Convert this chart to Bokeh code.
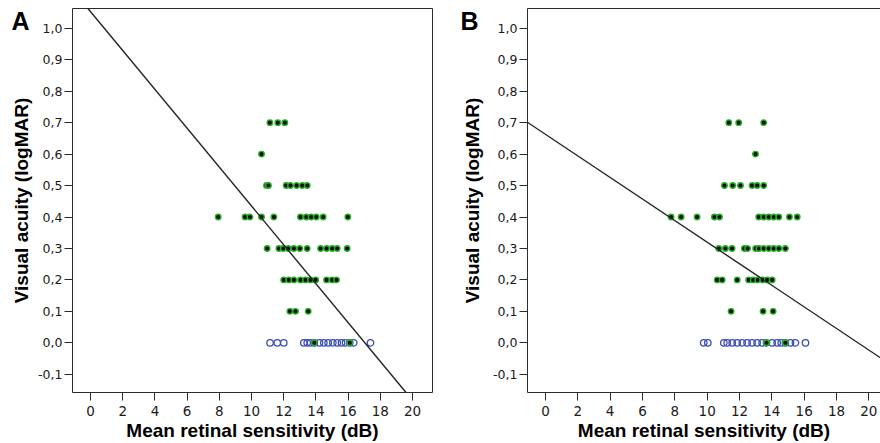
from bokeh.plotting import figure
from bokeh.layouts import row
from bokeh.models import FixedTicker, Range1d, Slope, LinearAxis, Title
from bokeh.embed import file_html
from bokeh.resources import INLINE

# ---------------- data ----------------
x_ticks = [0, 2, 4, 6, 8, 10, 12, 14, 16, 18, 20]
x_tick_labels = ["0", "2", "4", "6", "8", "10", "12", "14", "16", "18", "20"]
y_ticks = [-0.1, 0.0, 0.1, 0.2, 0.3, 0.4, 0.5, 0.6, 0.7, 0.8, 0.9, 1.0]
y_tick_labels = ["-0,1", "0,0", "0,1", "0,2", "0,3", "0,4", "0,5", "0,6", "0,7", "0,8", "0,9", "1,0"]

# Panel A
a_green_x = [11.14, 11.63, 12.07,
             10.62,
             10.93, 11.05, 12.15, 12.42, 12.8, 13.15, 13.46,
             7.93, 9.6, 9.9, 10.62, 11.39, 13.04, 13.4, 13.7, 14.02, 14.45, 15.98,
             10.97, 11.7, 11.97, 12.28, 12.63, 13.0, 13.46, 14.29, 14.66, 15.01, 15.32, 15.94,
             12.0, 12.32, 12.63, 13.04, 13.35, 13.66, 13.98, 14.66, 15.01, 15.28,
             12.38, 12.73, 13.52,
             13.9, 16.1]
a_green_y = [0.7] * 3 + [0.6] * 1 + [0.5] * 7 + [0.4] * 11 + [0.3] * 12 + [0.2] * 10 + [0.1] * 3 + [0.0] * 2
a_blue_x = [11.15, 11.6, 12.0, 13.25, 13.46, 13.66, 13.9, 14.22, 14.49, 14.76, 15.05,
            15.32, 15.59, 15.84, 16.1, 16.35, 17.39]
a_blue_y = [0.0] * len(a_blue_x)
a_intercept, a_slope = 1.053, -0.0618

# Panel B
b_green_x = [11.34, 11.95, 13.5,
             12.99,
             11.07, 11.58, 12.06, 12.78, 13.09, 13.5,
             7.77, 8.39, 9.38, 10.45, 10.76, 13.19, 13.5, 13.81, 14.12, 14.43, 15.09, 15.57,
             10.72, 11.13, 11.54, 12.3, 12.5, 13.0, 13.2, 13.5, 13.81, 14.12, 14.43, 14.84,
             10.62, 10.93, 11.86, 12.57, 12.85, 13.13, 13.44, 13.71, 14.02,
             11.48, 13.46, 14.08,
             13.67, 14.84]
b_green_y = [0.7] * 3 + [0.6] * 1 + [0.5] * 6 + [0.4] * 12 + [0.3] * 12 + [0.2] * 9 + [0.1] * 3 + [0.0] * 2
b_blue_x = [9.79, 10.04, 11.03, 11.24, 11.55, 11.86, 12.17, 12.47, 12.78, 13.09, 13.4,
            13.67, 14.02, 14.33, 14.58, 14.84, 15.15, 15.46, 16.08]
b_blue_y = [0.0] * len(b_blue_x)
b_intercept, b_slope = 0.663, -0.0343

X_LABEL = "Mean retinal sensitivity (dB)"
Y_LABEL = "Visual acuity (logMAR)"
PANEL_LETTERS = ["A", "B"]
LETTER_Y = 1.022

FRAME_COLOR = "#2a2a2a"
TEXT_COLOR = "#1a1a1a"
LABEL_FONT = "Liberation Sans"
FIG_H = 443


def style_axes(p):
    p.xgrid.visible = False
    p.ygrid.visible = False
    p.xaxis.ticker = FixedTicker(ticks=x_ticks)
    p.xaxis.major_label_overrides = {t: l for t, l in zip(x_ticks, x_tick_labels)}
    p.yaxis.ticker = FixedTicker(ticks=y_ticks)
    p.yaxis.major_label_overrides = {t: l for t, l in zip(y_ticks, y_tick_labels)}
    for ax in (p.xaxis, p.yaxis):
        ax.axis_line_color = FRAME_COLOR
        ax.major_tick_line_color = FRAME_COLOR
        ax.major_tick_in = 0
        ax.major_tick_out = 8
        ax.minor_tick_line_color = None
        ax.major_label_text_font = "DejaVu Sans"
        ax.major_label_text_color = TEXT_COLOR
    p.xaxis.major_label_text_font_size = "13.5px"
    p.yaxis.major_label_text_font_size = "12.5px"
    p.xaxis.major_label_standoff = 5
    p.yaxis.major_label_standoff = 2


def edge_axis(p, side):
    ax = LinearAxis(ticker=FixedTicker(ticks=[]), axis_line_color=FRAME_COLOR,
                    major_tick_out=0, major_tick_in=0, minor_tick_out=0, minor_tick_in=0,
                    major_label_standoff=0, major_label_text_font_size="0px")
    p.add_layout(ax, side)


def make_panel(letter, letter_standoff, ylabel_standoff, gx, gy, bx, by, intercept, slope,
               width, border_left, border_right, x_start, x_end, sides):
    p = figure(width=width, height=FIG_H, output_backend="svg", toolbar_location=None,
               x_range=Range1d(x_start, x_end), y_range=Range1d(-0.158, 1.063),
               min_border_left=border_left, min_border_right=border_right,
               min_border_top=8, min_border_bottom=0,
               background_fill_color="white", border_fill_color="white")
    p.outline_line_color = None
    style_axes(p)
    for s in sides:
        edge_axis(p, s)
    # outer left axis: carries the panel letter (as its only tick label) and the y-axis title
    letter_axis = LinearAxis(ticker=FixedTicker(ticks=[LETTER_Y]),
                             major_label_overrides={LETTER_Y: letter},
                             axis_line_color=None, major_tick_line_color=None,
                             minor_tick_line_color=None, major_tick_out=0, major_tick_in=0,
                             major_label_standoff=letter_standoff,
                             major_label_text_font=LABEL_FONT,
                             major_label_text_font_style="bold",
                             major_label_text_font_size="25px",
                             major_label_text_color="#000000",
                             axis_label=Y_LABEL, axis_label_standoff=ylabel_standoff,
                             axis_label_text_font=LABEL_FONT,
                             axis_label_text_font_style="bold",
                             axis_label_text_font_size="19px",
                             axis_label_text_color="#000000")
    p.add_layout(letter_axis, "left")
    p.add_layout(Title(text=X_LABEL, align="center", vertical_align="top", standoff=2,
                       text_font=LABEL_FONT, text_font_style="bold",
                       text_font_size="19px", text_color="#000000"), "below")
    p.scatter(bx, by, size=6.5, marker="circle", fill_alpha=0, line_color="#3a4db8", line_width=1.3)
    p.scatter(gx, gy, size=5.5, marker="circle", fill_color="#0a0a0a", line_color="#27b327", line_width=1.4)
    p.add_layout(Slope(gradient=slope, y_intercept=intercept, line_color="#262626", line_width=1.4))
    return p


pA = make_panel(PANEL_LETTERS[0], 6, -24, a_green_x, a_green_y, a_blue_x, a_blue_y,
                a_intercept, a_slope, 440, 72, 8, -1.12, 21.24, ["above", "right"])
pB = make_panel(PANEL_LETTERS[1], 12, -26, b_green_x, b_green_y, b_blue_x, b_blue_y,
                b_intercept, b_slope, 440, 87, 0, -1.11, 20.72, ["above"])

layout = row(pA, pB)
open("out.html", "w").write(file_html(layout, INLINE))
